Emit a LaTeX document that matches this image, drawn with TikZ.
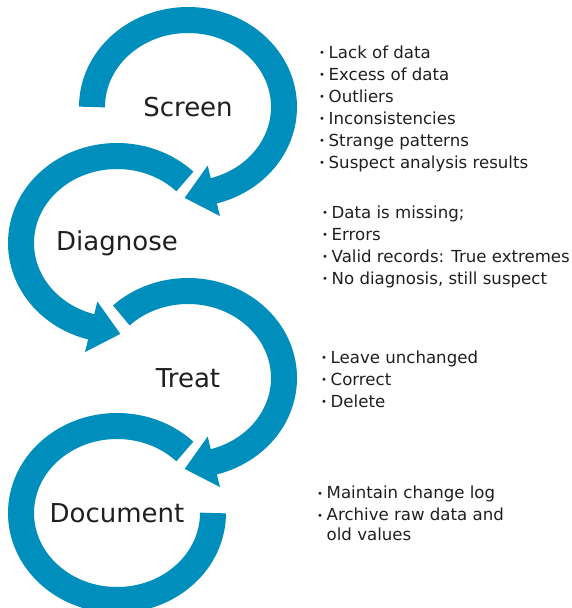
\documentclass[tikz,border=0pt]{standalone}
\usepackage{fontspec}
\setmainfont{DejaVu Sans}
\usepackage{xcolor}
\usetikzlibrary{calc,positioning}
\definecolor{ringblue}{RGB}{0,142,188}
\newcommand{\bul}{\makebox[9.5pt][l]{\fontsize{10}{10}\selectfont\raisebox{1.2pt}{•}}}

\begin{document}
\begin{tikzpicture}[x=1pt,y=1pt,
  ring/.style={draw=ringblue,line width=26pt},
  head/.style={fill=ringblue},
  stage/.style={font=\fontsize{26}{26}\selectfont,text=black!88,inner sep=0pt},
  notes/.style={font=\fontsize{16.6}{22}\selectfont,text=black!88,align=left,anchor=base west,inner sep=0pt}]
\useasboundingbox (0,0) rectangle (572,-608);

\node[stage] (screen) at (188,-107) {Screen};
\node[stage] (diagnose) at (117,-243) {Diagnose};
\node[stage] (treat) at (188,-378) {Treat};
\node[stage] (document) at (117,-513) {Document};

\draw[ring] ($(screen.center)+(180:96 and 87)$) arc[start angle=180,end angle=-75,x radius=96,y radius=87];
\fill[head,shift={($(screen.center)+(-75:96 and 87)$)},rotate=193.65] (-1,26) -- (29,0) -- (-1,-26) -- cycle;

\draw[ring] ($(diagnose.center)+(45:96 and 87)$) arc[start angle=45,end angle=255,x radius=96,y radius=87];
\fill[head,shift={($(diagnose.center)+(255:96 and 87)$)},rotate=-13.65] (-1,26) -- (29,0) -- (-1,-26) -- cycle;

\draw[ring] ($(treat.center)+(134:96 and 87)$) arc[start angle=134,end angle=-75,x radius=96,y radius=87];
\fill[head,shift={($(treat.center)+(-75:96 and 87)$)},rotate=193.65] (-1,26) -- (29,0) -- (-1,-26) -- cycle;

\draw[ring] ($(document.center)+(45:96 and 87)$) arc[start angle=45,end angle=360,x radius=96,y radius=87];

\node[notes] (screenlist) at (319,-168) {\bul Lack of data\\\bul Excess of data\\\bul Outliers\\\bul Inconsistencies\\\bul Strange patterns\\\bul Suspect analysis results};
\node[notes] (diagnoselist) at (322,-284) {\bul Data is missing;\\\bul Errors\\\bul Valid records: True extremes\\\bul No diagnosis, still suspect};
\node[notes] (treatlist) at (321,-407) {\bul Leave unchanged\\\bul Correct\\\bul Delete};
\node[notes] (documentlist) at (317,-540) {\bul Maintain change log\\\bul Archive raw data and\\[-2.5pt]\hspace*{9.5pt}old values};
\end{tikzpicture}
\end{document}
